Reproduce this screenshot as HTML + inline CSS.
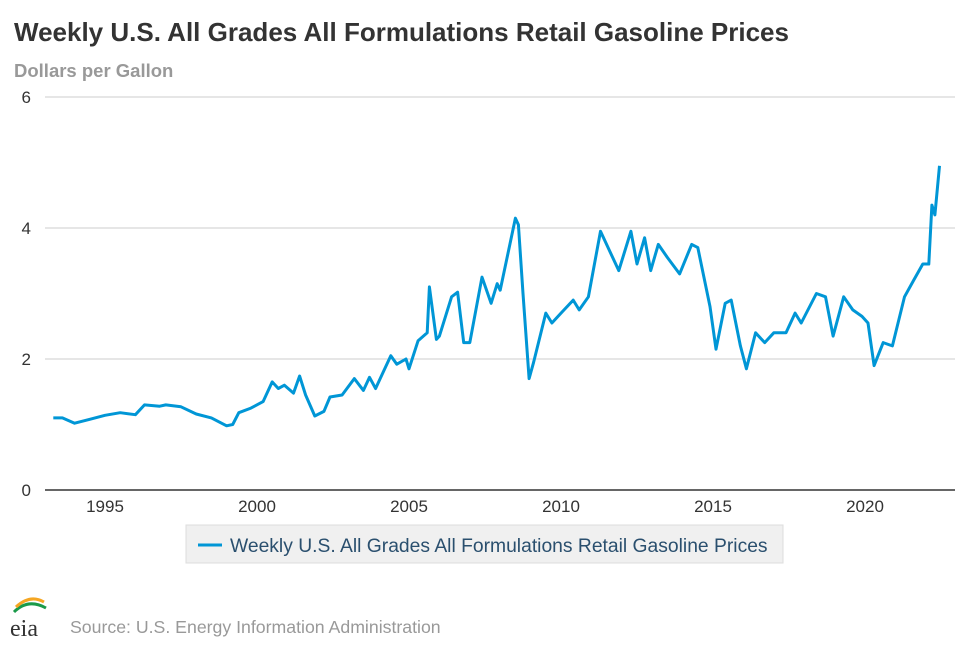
<!DOCTYPE html>
<html><head><meta charset="utf-8"><style>
body{margin:0;background:#fff;font-family:"Liberation Sans",Arial,sans-serif}
svg{display:block}
</style></head><body>
<svg width="970" height="647" xmlns="http://www.w3.org/2000/svg">
<text x="14" y="41" font-size="26" font-weight="bold" fill="#333">Weekly U.S. All Grades All Formulations Retail Gasoline Prices</text>
<text x="14" y="77" font-size="18.5" font-weight="bold" fill="#999">Dollars per Gallon</text>
<g id="grid"></g><g id="xt"></g>
<path id="line" fill="none" stroke="#0096d6" stroke-width="3" stroke-linejoin="round"/>
<g>
<rect x="186" y="525" width="597" height="38" fill="#f0f0f0" stroke="#ddd"/>
<line x1="198" y1="545" x2="222" y2="545" stroke="#0096d6" stroke-width="3"/>
<text x="230" y="552" font-size="19.3" fill="#2a4f6e">Weekly U.S. All Grades All Formulations Retail Gasoline Prices</text>
</g>
<g>
<path d="M14 612 Q28 598 46 608" stroke="#1a9a4a" stroke-width="3" fill="none"/>
<path d="M16 607 Q30 594 44 602" stroke="#f5a623" stroke-width="3" fill="none"/>
<text x="10" y="636" font-size="24" fill="#333" font-family="Liberation Serif,serif">eia</text>
</g>
<text x="70" y="633" font-size="17.7" fill="#999">Source: U.S. Energy Information Administration</text>
</svg>
<script>
const years=[1993.3,1993.6,1994.0,1994.5,1995.0,1995.5,1996.0,1996.3,1996.8,1997.0,1997.5,1998.0,1998.5,1999.0,1999.2,1999.4,1999.8,2000.2,2000.5,2000.7,2000.9,2001.2,2001.4,2001.6,2001.9,2002.2,2002.4,2002.8,2003.2,2003.5,2003.7,2003.9,2004.4,2004.6,2004.9,2005.0,2005.3,2005.6,2005.67,2005.9,2006.0,2006.4,2006.6,2006.8,2007.0,2007.4,2007.7,2007.9,2008.0,2008.5,2008.6,2008.75,2008.95,2009.1,2009.5,2009.7,2010.0,2010.4,2010.6,2010.9,2011.3,2011.6,2011.9,2012.3,2012.5,2012.75,2012.95,2013.2,2013.5,2013.9,2014.3,2014.5,2014.9,2015.1,2015.4,2015.6,2015.9,2016.1,2016.4,2016.7,2017.0,2017.4,2017.7,2017.9,2018.4,2018.7,2018.95,2019.3,2019.6,2019.9,2020.1,2020.3,2020.6,2020.9,2021.3,2021.6,2021.9,2022.1,2022.2,2022.3,2022.45];
const prices=[1.10,1.10,1.02,1.08,1.14,1.18,1.15,1.30,1.28,1.30,1.27,1.16,1.10,0.98,1.00,1.18,1.25,1.35,1.65,1.55,1.60,1.48,1.74,1.45,1.13,1.20,1.42,1.45,1.70,1.52,1.72,1.55,2.05,1.92,2.00,1.85,2.28,2.40,3.10,2.30,2.35,2.95,3.02,2.25,2.25,3.25,2.85,3.15,3.05,4.15,4.05,3.00,1.70,1.95,2.70,2.55,2.70,2.90,2.75,2.95,3.95,3.65,3.35,3.95,3.45,3.85,3.35,3.75,3.55,3.30,3.75,3.70,2.80,2.15,2.85,2.90,2.20,1.85,2.40,2.25,2.40,2.40,2.70,2.55,3.00,2.95,2.35,2.95,2.75,2.65,2.55,1.90,2.25,2.20,2.95,3.20,3.45,3.45,4.35,4.20,4.95];
const yTicks=[0,2,4,6];
const xTicks=[1995,2000,2005,2010,2015,2020];
const X=y=>105+(y-1995)*30.4, Y=v=>490-v*65.5;
const ns="http://www.w3.org/2000/svg";
const g=document.getElementById('grid');
yTicks.forEach(t=>{
 const l=document.createElementNS(ns,'line');
 
 
 l.setAttribute('x1',45);l.setAttribute('x2',955);l.setAttribute('y1',Y(t));l.setAttribute('y2',Y(t));
 l.setAttribute('stroke',t===0?'#333':'#ccc');l.setAttribute('stroke-width',t===0?1.5:1);g.appendChild(l);
 const tx=document.createElementNS(ns,'text');
 
 
 tx.setAttribute('x',31);tx.setAttribute('y',Y(t)+6);tx.setAttribute('text-anchor','end');tx.setAttribute('font-size','17');tx.setAttribute('fill','#333');tx.textContent=t;g.appendChild(tx);
});
const xg=document.getElementById('xt');
xTicks.forEach(t=>{
 const tx=document.createElementNS(ns,'text');
 
 
 tx.setAttribute('x',X(t));tx.setAttribute('y',512);tx.setAttribute('text-anchor','middle');tx.setAttribute('font-size','17');tx.setAttribute('fill','#333');tx.textContent=t;xg.appendChild(tx);
});
document.getElementById('line').setAttribute('d',years.map((y,i)=>(i?'L':'M')+X(y).toFixed(1)+' '+Y(prices[i]).toFixed(1)).join(''));
</script>
</body></html>
